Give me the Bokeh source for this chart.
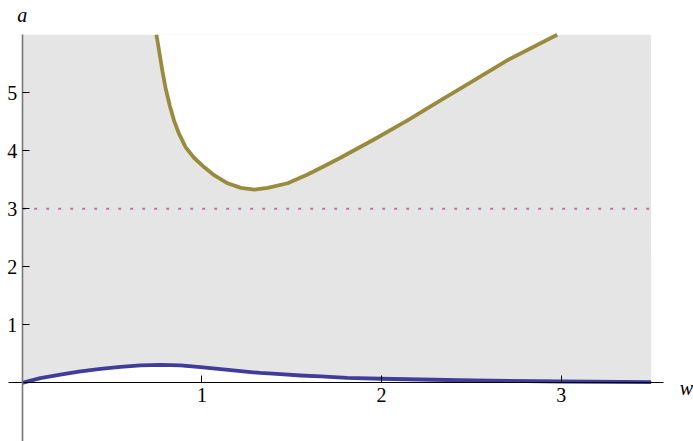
from bokeh.plotting import figure
from bokeh.models import LinearAxis, FixedTicker, Label, Range1d
from bokeh.embed import file_html
from bokeh.resources import INLINE

# ---- data ----
w_gold = [0.747, 0.762, 0.780, 0.798, 0.821, 0.845, 0.873, 0.910, 0.956, 1.012,
          1.068, 1.143, 1.217, 1.292, 1.366, 1.477, 1.588, 1.652, 1.771, 1.955,
          2.142, 2.328, 2.512, 2.699, 2.977]
a_gold = [6.00, 5.72, 5.38, 5.08, 4.78, 4.52, 4.29, 4.06, 3.88, 3.72,
          3.58, 3.44, 3.36, 3.33, 3.36, 3.44, 3.59, 3.69, 3.88, 4.19,
          4.52, 4.87, 5.21, 5.56, 6.00]

w_blue = [0.0, 0.101, 0.213, 0.324, 0.436, 0.547, 0.658, 0.770, 0.881, 0.992,
          1.104, 1.215, 1.326, 1.437, 1.549, 1.660, 1.808, 1.994, 2.51, 3.0, 3.5]
a_blue = [0.0, 0.08, 0.14, 0.195, 0.24, 0.275, 0.30, 0.31, 0.30, 0.27,
          0.235, 0.20, 0.17, 0.148, 0.126, 0.11, 0.086, 0.07, 0.04, 0.022, 0.01]

a_top = 6.0
a_ref = 3.0
w_end = 3.5

x_ticks = [1, 2, 3]
y_ticks = [1, 2, 3, 4, 5]

x_axis_bounds = (-0.075, 3.57)
y_axis_bounds = (-1.05, 6.0)

FONT = "Liberation Serif"

p = figure(frame_width=693, frame_height=441,
           x_range=Range1d(-0.1208, 3.7357), y_range=Range1d(-1.012, 6.591),
           x_axis_location=None, y_axis_location=None,
           toolbar_location=None, output_backend="svg",
           min_border_left=0, min_border_right=0,
           min_border_top=0, min_border_bottom=0)
p.outline_line_color = None
p.xgrid.visible = False
p.ygrid.visible = False
p.background_fill_color = "white"
p.border_fill_color = "white"

# shaded region
p.varea(x=w_blue, y1=a_blue, y2=[a_top] * len(w_blue), fill_color="#e5e5e5")
p.varea(x=w_gold, y1=a_gold, y2=[a_top] * len(w_gold), fill_color="white")

# dotted reference line
p.line(x=[0, w_end], y=[a_ref, a_ref], line_color="#b9779f", line_width=2,
       line_dash="3 9")

# curves
p.line(x=w_gold, y=a_gold, line_color="#998b3d", line_width=3.8,
       line_join="round")
p.line(x=w_blue, y=a_blue, line_color="#3f3d99", line_width=3.8,
       line_join="round")

# axes crossing at origin
xa = LinearAxis(fixed_location=0, ticker=FixedTicker(ticks=x_ticks),
                bounds=x_axis_bounds)
ya = LinearAxis(fixed_location=0, ticker=FixedTicker(ticks=y_ticks),
                bounds=y_axis_bounds)
for ax in (xa, ya):
    ax.major_tick_in = 7
    ax.major_tick_out = 0
    ax.minor_tick_line_color = None
    ax.major_label_text_font = FONT
    ax.major_label_text_font_size = "20px"
    ax.major_label_text_color = "black"
    ax.major_tick_line_color = "black"
xa.axis_line_color = "black"
xa.axis_line_width = 1.2
ya.axis_line_color = "#777777"
ya.axis_line_width = 1.6
xa.major_label_standoff = 5
ya.major_label_standoff = 5
p.add_layout(xa, "below")
p.add_layout(ya, "left")

# axis labels
p.add_layout(Label(x=0, y=a_top, text="a", x_units="data", y_units="data",
                   y_offset=20, text_align="center", text_baseline="alphabetic",
                   text_font=FONT, text_font_style="italic",
                   text_font_size="20px", text_color="black"))
p.add_layout(Label(x=x_axis_bounds[1], y=0, text="w", x_units="data",
                   y_units="data", x_offset=16, y_offset=-5, text_align="left",
                   text_baseline="alphabetic",
                   text_font=FONT, text_font_style="italic",
                   text_font_size="20px", text_color="black"))

open("out.html", "w").write(file_html(p, INLINE))
